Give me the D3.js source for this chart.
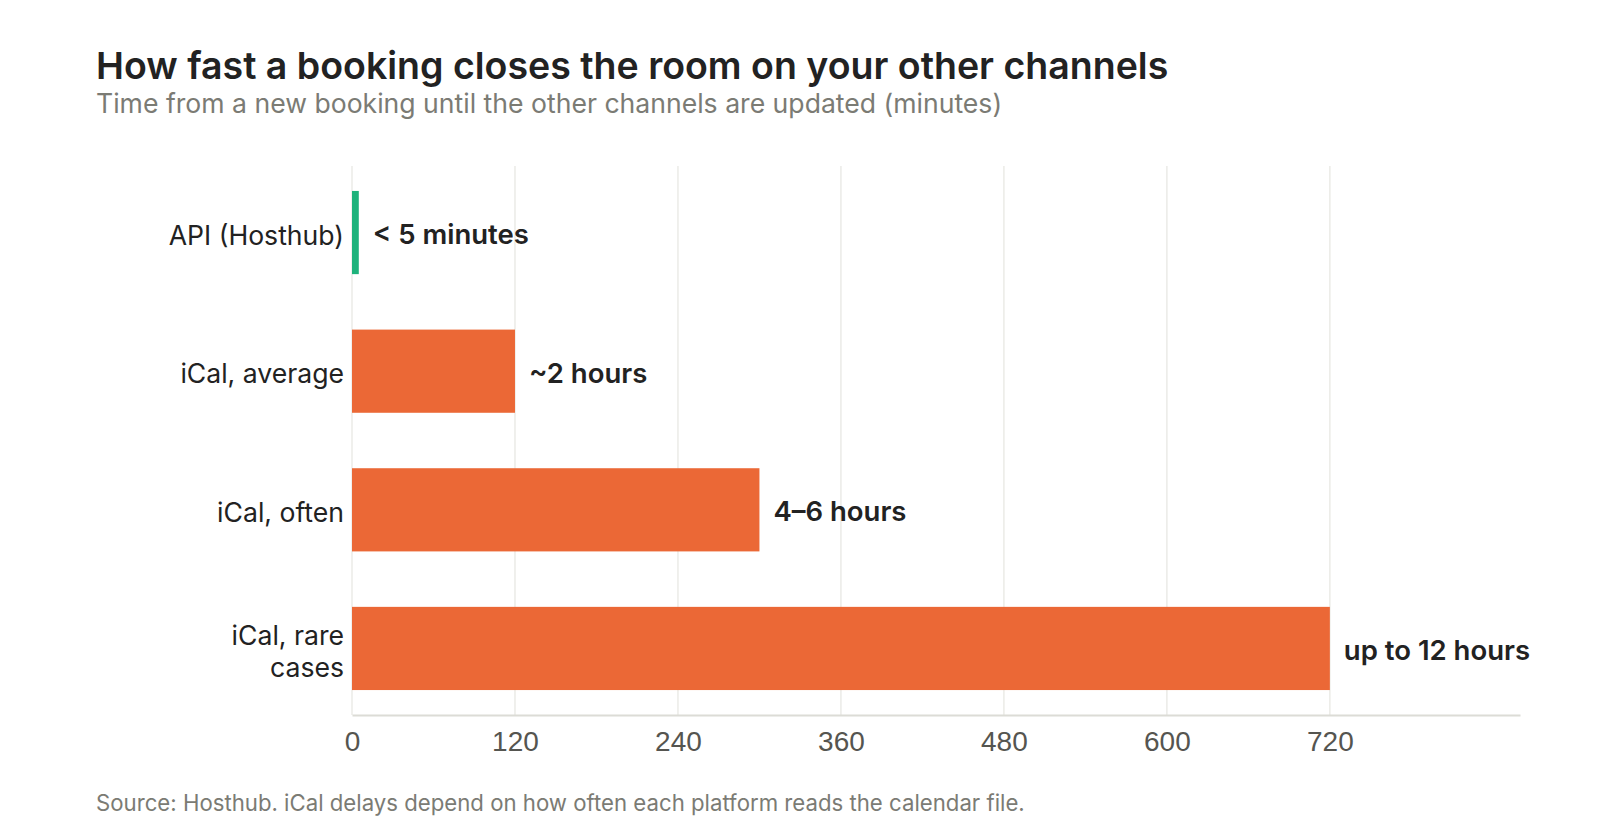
<!DOCTYPE html>
<html lang="en">
<head>
    <meta charset="UTF-8">
    <title>How fast a booking closes the room on your other channels</title>
    <script src="https://cdn.jsdelivr.net/npm/d3@7"></script>
    <style>
        body { margin: 0; background: #fff; font-family: Inter, "Noto Sans", sans-serif; }
        svg { display: block; }
        .title { font-size: 37.5px; font-weight: 600; fill: #222; }
        .subtitle { font-size: 26.6px; fill: #7b7b74; }
        .cat { font-size: 26.6px; fill: #222; }
        .val { font-size: 27.5px; font-weight: 600; fill: #222; }
        .tick-label { font-size: 28px; fill: #555550; }
        .source { font-size: 22.2px; fill: #7b7b74; }
    </style>
</head>
<body>
<svg width="1600" height="832"></svg>
<script>
    // data
    const categories = [["API (Hosthub)"], ["iCal, average"], ["iCal, often"], ["iCal, rare", "cases"]];
    const minutes = [5, 120, 300, 720];
    const valueLabels = ["< 5 minutes", "~2 hours", "4\u20136 hours", "up to 12 hours"];
    const barColors = ["#1db27b", "#eb6836", "#eb6836", "#eb6836"];
    const tickValues = [0, 120, 240, 360, 480, 600, 720];

    const svg = d3.select("svg");
    const margin = { left: 352, right: 80, top: 166, bottom: 117 };
    const width = 1600, height = 832;

    const x = d3.scaleLinear().domain([0, 860]).range([margin.left, width - margin.right]);
    const y = d3.scaleBand().domain(d3.range(categories.length))
        .range([margin.top, height - margin.bottom])
        .paddingInner(0.4).paddingOuter(0.18);

    // title + subtitle
    svg.append("text").attr("class", "title").attr("x", 96).attr("y", 79)
        .text("How fast a booking closes the room on your other channels");
    svg.append("text").attr("class", "subtitle").attr("x", 96).attr("y", 113)
        .text("Time from a new booking until the other channels are updated (minutes)");

    // grid
    svg.append("g").selectAll("line").data(tickValues).join("line")
        .attr("x1", d => x(d)).attr("x2", d => x(d))
        .attr("y1", margin.top).attr("y2", height - margin.bottom)
        .attr("stroke", "#ebebe7").attr("stroke-width", 1.5);

    // bars
    svg.append("g").selectAll("rect").data(minutes).join("rect")
        .attr("x", x(0))
        .attr("y", (d, i) => y(i))
        .attr("width", d => x(d) - x(0))
        .attr("height", y.bandwidth())
        .attr("fill", (d, i) => barColors[i]);

    // value labels
    svg.append("g").selectAll("text").data(minutes).join("text")
        .attr("class", "val")
        .attr("x", d => x(d) + 14)
        .attr("y", (d, i) => y(i) + y.bandwidth() / 2 + 2)
        .attr("dy", "0.35em")
        .text((d, i) => valueLabels[i]);

    // category labels
    const cat = svg.append("g").selectAll("text").data(categories).join("text")
        .attr("class", "cat")
        .attr("text-anchor", "end")
        .attr("x", margin.left - 8)
        .attr("y", (d, i) => y(i) + y.bandwidth() / 2 + 3);
    cat.each(function (lines) {
        const t = d3.select(this);
        const lh = 32;
        lines.forEach((s, j) => {
            t.append("tspan")
                .attr("x", margin.left - 8)
                .attr("dy", j === 0 ? (0.35 * 26.6 - (lines.length - 1) * lh / 2) : lh)
                .text(s);
        });
    });

    // x axis
    const axis = svg.append("g").attr("transform", `translate(0,${height - margin.bottom})`)
        .call(d3.axisBottom(x).tickValues(tickValues).tickSize(0).tickPadding(16));
    axis.select(".domain").attr("stroke", "#dcdcd6").attr("stroke-width", 2);
    axis.selectAll(".tick text").attr("class", "tick-label").attr("font-family", null).attr("font-size", null).attr("fill", null);

    // source
    svg.append("text").attr("class", "source").attr("x", 96).attr("y", 811)
        .text("Source: Hosthub. iCal delays depend on how often each platform reads the calendar file.");
</script>
</body>
</html>
